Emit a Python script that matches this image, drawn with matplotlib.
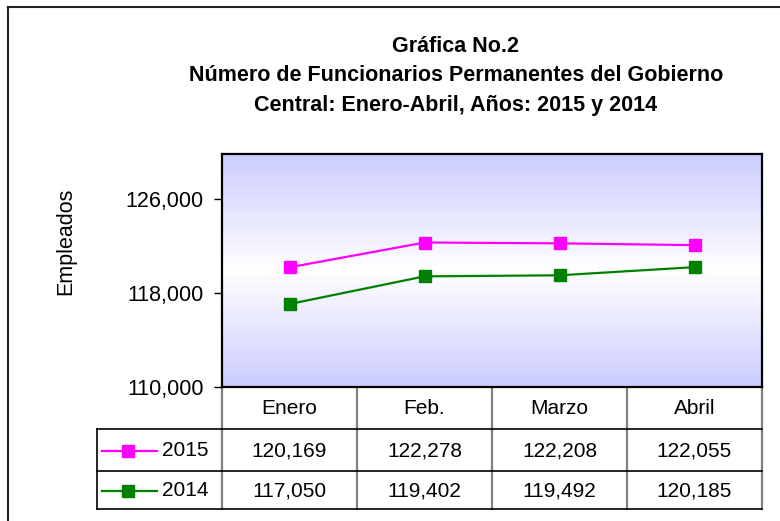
import numpy as np
import matplotlib
matplotlib.use("Agg")
import matplotlib.pyplot as plt
from matplotlib.colors import LinearSegmentedColormap
from matplotlib.lines import Line2D

months = ["Enero", "Feb.", "Marzo", "Abril"]
series_names = ["2015", "2014"]
values_2015 = [120169, 122278, 122208, 122055]
values_2014 = [117050, 119402, 119492, 120185]
y_ticks = [110000, 118000, 126000]
title_lines = ["Gráfica No.2",
               "Número de Funcionarios Permanentes del Gobierno",
               "Central: Enero-Abril, Años: 2015 y 2014"]

W, H = 780, 521
plt.rcParams['font.family'] = ['Liberation Sans', 'DejaVu Sans']
fig = plt.figure(figsize=(W / 100, H / 100), dpi=100)

def fx(px):
    return px / W

def fy(py):
    return 1 - py / H

L, R, T, B = 222, 762, 154, 387
ax = fig.add_axes([fx(L), fy(B), fx(R) - fx(L), fy(T) - fy(B)])

# gradient background
grad = np.abs(np.linspace(-1, 1, 256))[:, None]
cmap = LinearSegmentedColormap.from_list("g", ["#ffffff", "#ccccff"])
ax.imshow(grad, extent=[0, 1, 0, 1], transform=ax.transAxes, cmap=cmap,
          aspect="auto", zorder=0, interpolation="bicubic")

x = np.arange(len(months))
colors = ["#ff00ff", "#008000"]
for vals, c, name in zip([values_2015, values_2014], colors, series_names):
    ax.plot(x, vals, color=c, lw=1.6, marker="s", ms=8.5, mec=c, mfc=c,
            zorder=3, label=name)

ax.set_xlim(-0.5, len(months) - 0.5)
ax.set_ylim(110000, 129800)
ax.set_yticks(y_ticks)
ax.set_yticklabels([f"{v:,}" for v in y_ticks], fontsize=15.5)
ax.tick_params(axis="y", direction="out", length=6, width=1, pad=7)
ax.set_xticks([])
for s in ax.spines.values():
    s.set_linewidth(1.6)
    s.set_color("black")
ax.set_ylabel("Empleados", fontsize=15.5)
ax.yaxis.set_label_coords((76 - L) / (R - L), (B - 241) / (B - T))

# title
for i, t in enumerate(title_lines):
    fig.text(fx(456), fy(46 + i * 29.5), t, ha="center", va="center",
             fontsize=15.5, fontweight="bold")

# table drawn beneath the axes using the axes' x scale
xt = ax.get_xaxis_transform()
def ay(py):
    return (B - py) / (B - T)

colw = (R - L) / len(months)
def dx(px):
    return -0.5 + (px - L) / colw

row_edges = [387, 429, 471, 509]
col_edges = np.arange(len(months) + 1) - 0.5
leg_left = dx(97)

# vertical lines (gray)
for ce in col_edges:
    ax.plot([ce, ce], [ay(row_edges[0]), ay(row_edges[-1])], transform=xt,
            color="#808080", lw=1.6, clip_on=False, zorder=1)
ax.plot([leg_left, leg_left], [ay(row_edges[1]), ay(row_edges[-1])],
        transform=xt, color="black", lw=1.2, clip_on=False)
# horizontal lines (black)
for re_ in row_edges[1:]:
    ax.plot([leg_left, col_edges[-1]], [ay(re_), ay(re_)], transform=xt,
            color="black", lw=1.2, clip_on=False)

# header
for xi, m in zip(x, months):
    ax.text(xi, ay((row_edges[0] + row_edges[1]) / 2), m, transform=xt,
            ha="center", va="center", fontsize=15)
# data rows
for r, (vals, c, name) in enumerate(zip([values_2015, values_2014], colors,
                                         series_names)):
    yc = ay((row_edges[r + 1] + row_edges[r + 2]) / 2 + 1)
    for xi, v in zip(x, vals):
        ax.text(xi, yc, f"{v:,}", transform=xt, ha="center", va="center",
                fontsize=15)
    ax.plot([dx(102), dx(157)], [yc, yc], transform=xt, color=c, lw=1.6,
            clip_on=False)
    ax.plot([dx(128)], [yc], transform=xt, color=c, marker="s", ms=8.5,
            clip_on=False)
    ax.text(dx(162), yc, name, transform=xt, ha="left",
            va="center", fontsize=15)

# outer chart border
fig.add_artist(Line2D([fx(8), fx(8)], [fy(7), 0], color="#222222", lw=1.5))
fig.add_artist(Line2D([fx(8), 1], [fy(7), fy(7)], color="#222222", lw=1.5))

fig.savefig("out.png", dpi=100)
